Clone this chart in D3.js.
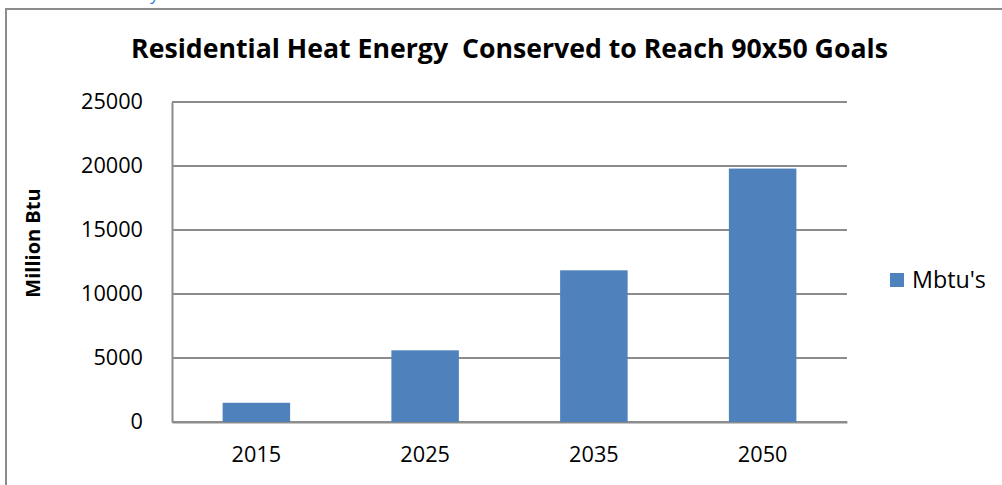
<!DOCTYPE html>
<html>
<head>
<meta charset="utf-8">
<script src="https://cdn.jsdelivr.net/npm/d3@7"></script>
<style>
  html, body { margin: 0; padding: 0; background: #fff; }
  svg { display: block; }
  text { font-family: "Open Sans", Lato, "Liberation Sans", sans-serif; fill: #000; }
</style>
</head>
<body>
<svg id="chart" width="1002" height="485"></svg>
<script>
// Residential heat energy conserved per milestone year
const years = ["2015", "2025", "2035", "2050"];
const mbtu = [1500, 5600, 11850, 19800];
const yTicks = [0, 5000, 10000, 15000, 20000, 25000];
const seriesName = "Mbtu's";
const chartTitle = "Residential Heat Energy  Conserved to Reach 90x50 Goals";
const yTitle = "Million Btu";

const svg = d3.select("#chart");
const W = 1002, H = 485;
const plot = { left: 172, right: 847, top: 102, bottom: 422 };
const gridColor = "#8c8c8c";
const barColor = "#4f81bd";

// Size a text element so its rendered width equals the given width
function fitWidth(sel, width) {
  sel.each(function () {
    const base = 20;
    this.style.fontSize = base + "px";
    const w = this.getComputedTextLength();
    this.style.fontSize = (base * width / w).toFixed(2) + "px";
  });
}

// Chart frame (runs off the right and bottom of the page)
svg.append("rect")
  .attr("x", 6).attr("y", 9)
  .attr("width", W + 50).attr("height", H + 50)
  .attr("fill", "#fff")
  .attr("stroke", gridColor).attr("stroke-width", 2);

// Stray link text clipped at the top edge
svg.append("text")
  .attr("x", 150).attr("y", 0)
  .style("font-size", "18px")
  .style("fill", "#3b7dd8")
  .text("y");

const x = d3.scaleBand()
  .domain(years)
  .range([plot.left, plot.right])
  .paddingInner(0.6)
  .paddingOuter(0.3);

const y = d3.scaleLinear()
  .domain([0, 25000])
  .range([plot.bottom, plot.top]);

// Horizontal gridlines
svg.append("g")
  .selectAll("line")
  .data(yTicks)
  .join("line")
  .attr("x1", plot.left).attr("x2", plot.right)
  .attr("y1", d => y(d)).attr("y2", d => y(d))
  .attr("stroke", gridColor).attr("stroke-width", 2);

// Y axis
const yAxis = svg.append("g")
  .attr("transform", `translate(${plot.left},0)`)
  .call(d3.axisLeft(y).tickValues(yTicks).tickSize(0).tickPadding(29).tickFormat(d3.format("d")));
yAxis.select(".domain").attr("stroke", gridColor).attr("stroke-width", 2);
yAxis.selectAll("text").attr("fill", "#000");
const yDigit = yAxis.selectAll("text").filter(d => d === 25000);
fitWidth(yDigit, 62);
const tickSize = yDigit.node().style.fontSize;
yAxis.selectAll("text").style("font-size", tickSize);

// X axis
const xAxis = svg.append("g")
  .attr("transform", `translate(0,${plot.bottom})`)
  .call(d3.axisBottom(x).tickSize(0).tickPadding(25));
xAxis.select(".domain").attr("stroke", gridColor).attr("stroke-width", 2);
xAxis.selectAll("text").style("font-size", tickSize).attr("fill", "#000");

// Bars
svg.append("g")
  .selectAll("rect")
  .data(years.map((yr, i) => ({ yr, v: mbtu[i] })))
  .join("rect")
  .attr("x", d => x(d.yr))
  .attr("width", x.bandwidth())
  .attr("y", d => y(d.v))
  .attr("height", d => y(0) - y(d.v))
  .attr("fill", barColor);

// Title
const title = svg.append("text")
  .attr("x", 509.5).attr("y", 58)
  .attr("text-anchor", "middle")
  .style("font-weight", "bold")
  .attr("xml:space", "preserve")
  .text(chartTitle);
fitWidth(title, 757);

// Y axis title
svg.append("text")
  .attr("transform", `translate(40,243) rotate(-90)`)
  .attr("text-anchor", "middle")
  .style("font-weight", "bold")
  .style("font-size", "20px")
  .text(yTitle);

// Legend
const lg = svg.append("g").attr("transform", "translate(890,273)");
lg.append("rect").attr("width", 14).attr("height", 14).attr("fill", barColor);
const lt = lg.append("text").attr("x", 22).attr("y", 15).text(seriesName);
fitWidth(lt, 74);
</script>
</body>
</html>
